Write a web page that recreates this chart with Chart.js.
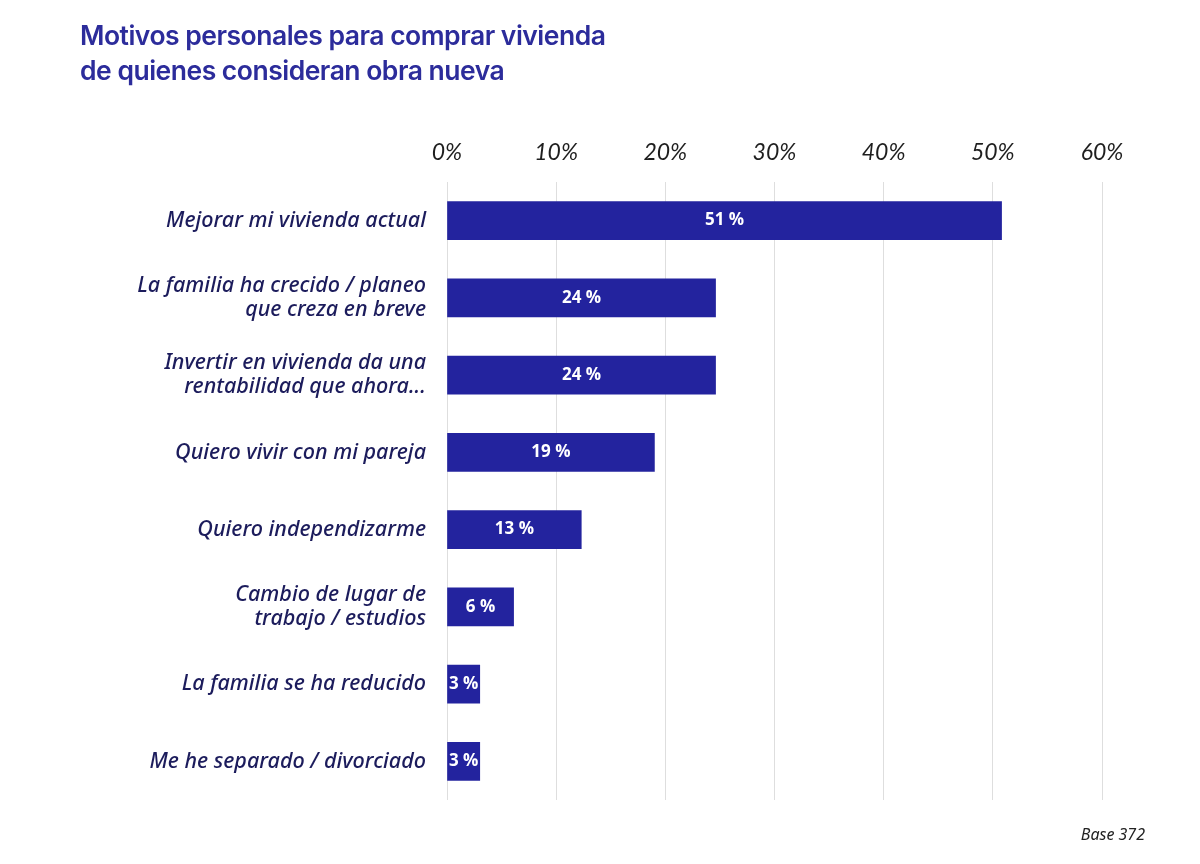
<!DOCTYPE html>
<html>
<head>
<meta charset="utf-8">
<script src="https://cdn.jsdelivr.net/npm/chart.js@4/dist/chart.umd.min.js"></script>
<style>
  html, body { margin: 0; padding: 0; background: #ffffff; }
  body { width: 1200px; height: 864px; position: relative; overflow: hidden; }
  #title { position: absolute; left: 80px; top: 18px; font-family: Inter, "Noto Sans", sans-serif; font-weight: 600; font-size: 26.5px; line-height: 35px; color: #2c2c9b; letter-spacing: -0.5px; }
  #base { position: absolute; right: 55px; top: 823px; font-family: "Noto Sans", sans-serif; font-style: italic; font-size: 16px; color: #222; }
  #wrap { position: absolute; left: 0; top: 0; width: 1200px; height: 864px; }
</style>
</head>
<body>
<div id="wrap"><canvas id="c" width="1200" height="864"></canvas></div>
<div id="title">Motivos personales para comprar vivienda<br>de quienes consideran obra nueva</div>
<div id="base">Base 372</div>
<script>
const categories = [
  "Mejorar mi vivienda actual",
  ["La familia ha crecido / planeo", "que creza en breve"],
  ["Invertir en vivienda da una", "rentabilidad que ahora..."],
  "Quiero vivir con mi pareja",
  "Quiero independizarme",
  ["Cambio de lugar de", "trabajo / estudios"],
  "La familia se ha reducido",
  "Me he separado / divorciado"
];
const values = [50.8, 24.6, 24.6, 19.0, 12.3, 6.1, 3.0, 3.0];
const valueLabels = ["51 %", "24 %", "24 %", "19 %", "13 %", "6 %", "3 %", "3 %"];
const tickValues = [0, 10, 20, 30, 40, 50, 60];

const barLabelPlugin = {
  id: 'barLabels',
  afterDatasetsDraw(chart) {
    const ctx = chart.ctx;
    const meta = chart.getDatasetMeta(0);
    ctx.save();
    ctx.fillStyle = '#ffffff';
    ctx.font = 'bold 17px "Open Sans", sans-serif';
    ctx.textAlign = 'center';
    ctx.textBaseline = 'middle';
    meta.data.forEach((bar, i) => {
      const cx = (bar.x + bar.base) / 2;
      ctx.fillText(valueLabels[i], cx, bar.y);
    });
    ctx.restore();
  }
};

new Chart(document.getElementById('c'), {
  type: 'bar',
  data: {
    labels: categories,
    datasets: [{
      data: values,
      backgroundColor: '#23239e',
      borderWidth: 0,
      barThickness: 38
    }]
  },
  options: {
    indexAxis: 'y',
    responsive: false,
    animation: false,
    layout: { padding: { top: 130, bottom: 64, left: 0, right: 98 } },
    plugins: { legend: { display: false }, tooltip: { enabled: false } },
    scales: {
      x: {
        position: 'top',
        min: 0, max: 60,
        afterBuildTicks(axis) { axis.ticks = tickValues.map(v => ({ value: v })); },
        afterFit(axis) { axis.height = 52; },
        grid: { display: true, color: '#dedede', lineWidth: 1, drawTicks: false },
        border: { display: false },
        ticks: {
          padding: 16,
          color: '#1e1e1e',
          font: { family: 'Lato, "Noto Sans", sans-serif', style: 'italic', weight: 400, size: 23 },
          callback: v => v + '%'
        }
      },
      y: {
        afterFit(axis) { axis.width = 447; },
        grid: { display: false },
        border: { display: false },
        ticks: {
          padding: 13,
          color: '#1c1c5c',
          font: { family: '"Noto Sans", sans-serif', style: 'italic', weight: 500, size: 21.5, lineHeight: 1.12 }
        }
      }
    }
  },
  plugins: [barLabelPlugin]
});
</script>
</body>
</html>
